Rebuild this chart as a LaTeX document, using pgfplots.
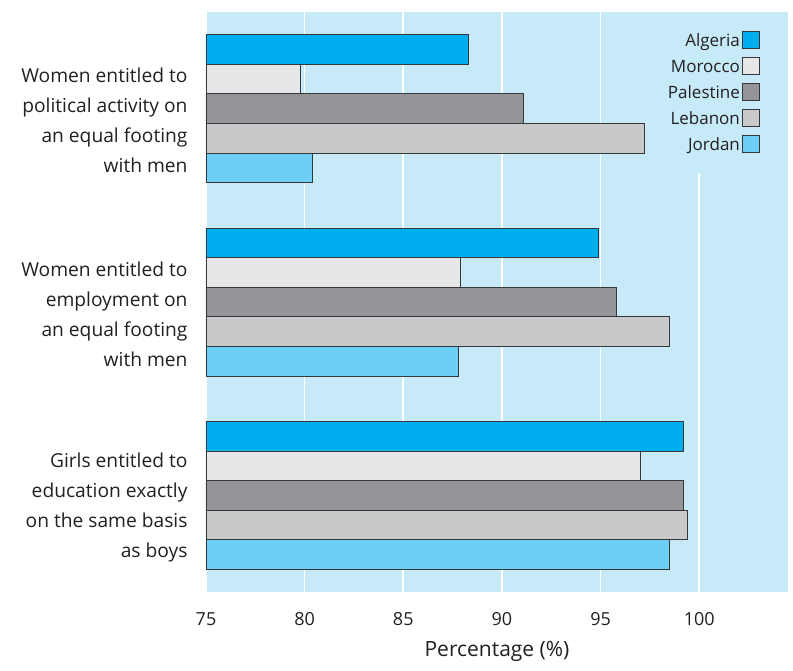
\documentclass[border=0pt]{standalone}
\usepackage{fontspec}
\setmainfont{Open Sans}
\usepackage{pgfplots}
\pgfplotsset{compat=1.18}
\definecolor{bg}{RGB}{199,234,249}
\definecolor{alg}{RGB}{0,174,239}
\definecolor{mor}{RGB}{230,231,233}
\definecolor{pal}{RGB}{147,149,152}
\definecolor{leb}{RGB}{200,201,203}
\definecolor{jor}{RGB}{109,207,246}
\definecolor{edge}{RGB}{55,55,55}
\definecolor{txt}{RGB}{35,31,32}
\begin{document}
\begin{tikzpicture}
\begin{axis}[
  scale only axis, width=582pt, height=580pt,
  xmin=75, xmax=104.5, ymin=-0.5, ymax=2.5, y dir=reverse,
  axis background/.style={fill=bg},
  axis line style={draw=none},
  major tick length=0pt,
  xtick={75,80,...,100},
  xmajorgrids, grid style={white, line width=1.6pt},
  ytick={0,1,2},
  yticklabels={{Women entitled to\\political activity on\\an equal footing\\with men},
               {Women entitled to\\employment on\\an equal footing\\with men},
               {Girls entitled to\\education exactly\\on the same basis\\as boys}},
  yticklabel style={align=right, font=\fontsize{19.2}{30}\selectfont, text=txt, xshift=-15pt, yshift=-12pt},
  xticklabel style={font=\fontsize{18}{20}\selectfont, text=txt, yshift=-17pt},
  /pgf/number format/assume math mode=true,
  xlabel={Percentage (\%)},
  xlabel style={font=\fontsize{21}{24}\selectfont, text=txt, yshift=-9pt},
  xbar, bar width=0.153,
  every axis plot/.append style={draw=edge, line width=0.9pt},
  legend style={at={(axis description cs:1,1)}, anchor=north east, fill=bg, draw=none,
     font=\fontsize{17}{20}\selectfont, text=txt, inner xsep=12pt, inner ysep=19pt,
     xshift=-16pt, row sep=7.5pt},
  legend cell align=right, legend plot pos=right,
  legend image code/.code={\draw[#1, line width=0.9pt] (0pt,-8pt) rectangle (17pt,9pt);},
]
\addplot[fill=alg, bar shift=-0.306] coordinates {(88.3,0) (94.9,1) (99.2,2)};
\addlegendentry{Algeria}
\addplot[fill=mor, bar shift=-0.153] coordinates {(79.8,0) (87.9,1) (97.0,2)};
\addlegendentry{Morocco}
\addplot[fill=pal, bar shift=0] coordinates {(91.1,0) (95.8,1) (99.2,2)};
\addlegendentry{Palestine}
\addplot[fill=leb, bar shift=0.153] coordinates {(97.2,0) (98.5,1) (99.4,2)};
\addlegendentry{Lebanon}
\addplot[fill=jor, bar shift=0.306] coordinates {(80.4,0) (87.8,1) (98.5,2)};
\addlegendentry{Jordan}
\coordinate (O) at (axis description cs:0,0);
\end{axis}
\path (O) ++(-206pt,-78pt) rectangle ++(793pt,670pt);
\end{tikzpicture}
\end{document}
